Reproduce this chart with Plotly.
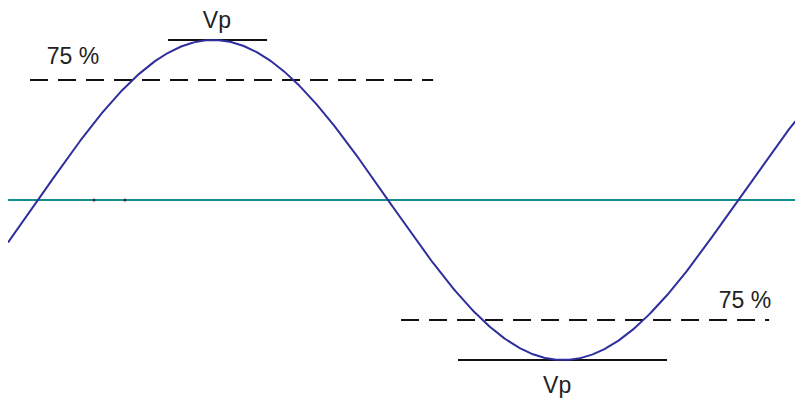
import numpy as np
import plotly.graph_objects as go

# ---- data (phase in degrees, amplitude in units of Vp) ----
vp = 1.0
level_75 = 0.75
phase_start, phase_end = -15.4, 393.4
center_span = [-15.4, 393.4]
upper_75_span = [-4.1, 203.2]
upper_vp_span = [66.9, 117.8]
lower_75_span = [186.7, 376.0]
lower_vp_span = [216.0, 323.5]
center_dots = [28.8, 44.7]
label_texts = ["75 %", "Vp", "Vp", "75 %"]
label_x = [18.0, 92.0, 267.0, 363.6]
label_y = [0.8875, 1.11, -1.17, -0.64]

phase = np.linspace(phase_start, phase_end, 600)
wave = vp * np.sin(np.radians(phase))

fig = go.Figure()
fig.add_trace(go.Scatter(x=center_span, y=[0, 0], mode="lines",
                         line=dict(color="#118f8f", width=2), hoverinfo="skip"))
fig.add_trace(go.Scatter(x=center_dots, y=[0, 0], mode="markers",
                         marker=dict(color="#333333", size=3), hoverinfo="skip"))
fig.add_trace(go.Scatter(x=upper_75_span, y=[level_75 * vp] * 2, mode="lines",
                         line=dict(color="#111111", width=2, dash="18px,10px")))
fig.add_trace(go.Scatter(x=lower_75_span, y=[-level_75 * vp] * 2, mode="lines",
                         line=dict(color="#111111", width=2, dash="18px,10px")))
fig.add_trace(go.Scatter(x=upper_vp_span, y=[vp] * 2, mode="lines",
                         line=dict(color="#111111", width=2)))
fig.add_trace(go.Scatter(x=lower_vp_span, y=[-vp] * 2, mode="lines",
                         line=dict(color="#111111", width=2)))
fig.add_trace(go.Scatter(x=phase, y=wave, mode="lines",
                         line=dict(color="#2e2e9e", width=2)))
fig.add_trace(go.Scatter(x=label_x, y=label_y, mode="text", text=label_texts,
                         textposition="middle center",
                         textfont=dict(family="Liberation Sans, Arial", size=23, color="#222222")))

# page body has an 8px margin: the figure starts at page pixel 8
px_per_deg = 700 / 360
x0 = (8 - 38) / px_per_deg
x1 = (803 - 38) / px_per_deg
fig.update_layout(
    width=795, height=393,
    margin=dict(l=0, r=0, t=0, b=0),
    paper_bgcolor="white", plot_bgcolor="white",
    showlegend=False,
    xaxis=dict(range=[x0, x1], visible=False, fixedrange=True),
    yaxis=dict(range=[-201 / 160, (200 - 8) / 160], visible=False, fixedrange=True),
)
fig.write_html("out.html")
